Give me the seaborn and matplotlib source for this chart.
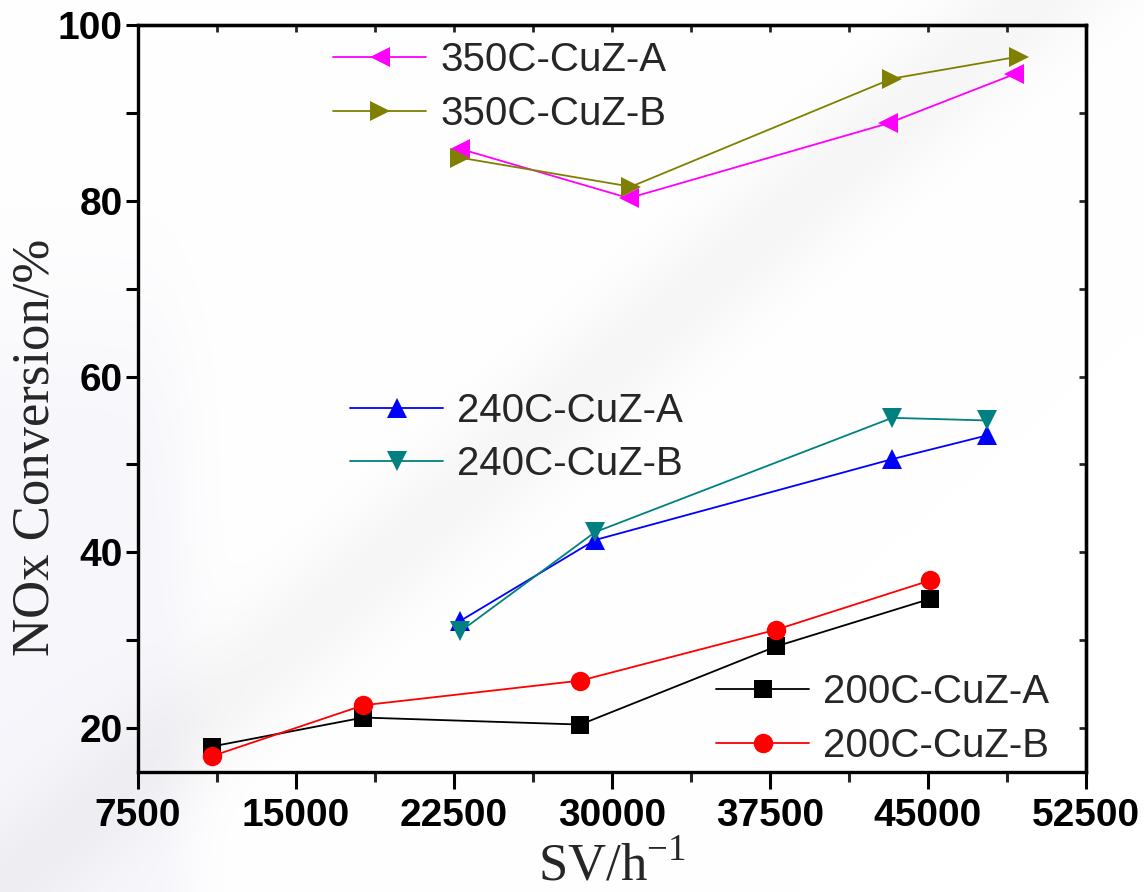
import matplotlib
matplotlib.use("Agg")
import matplotlib.pyplot as plt
import seaborn as sns
import numpy as np
import pandas as pd
from matplotlib.ticker import MultipleLocator

# Space velocity (h^-1) and NOx conversion (%) per catalyst / temperature
sv_200 = [11000, 18200, 28500, 37800, 45100]
nox_200A = [17.9, 21.2, 20.4, 29.3, 34.7]
nox_200B = [16.8, 22.6, 25.4, 31.2, 36.8]

sv_240 = [22800, 29200, 43300, 47800]
nox_240A = [32.2, 41.4, 50.6, 53.3]
nox_240B = [31.0, 42.3, 55.3, 55.0]

sv_350A = [22800, 30800, 43100, 49100]
nox_350A = [85.9, 80.3, 88.8, 94.4]
sv_350B = [22800, 30900, 43300, 49300]
nox_350B = [84.9, 81.6, 93.9, 96.4]

labels = ["350C-CuZ-A", "350C-CuZ-B", "240C-CuZ-A", "240C-CuZ-B",
          "200C-CuZ-A", "200C-CuZ-B"]

sns.set_theme(style="white")
plt.rcParams["font.family"] = ["Liberation Sans", "DejaVu Sans"]
plt.rcParams["mathtext.fontset"] = "custom"
plt.rcParams["mathtext.rm"] = "Liberation Serif"

W, H = 1144, 892
fig = plt.figure(figsize=(W / 100, H / 100), dpi=100)
fig.patch.set_facecolor("white")

# soft slide-style backdrop: faint diagonal streak and a tinted left margin
bg_ax = fig.add_axes([0, 0, 1, 1], zorder=-10)
yy, xx = np.mgrid[0:H, 0:W].astype(float)
d = (0.86 * (xx - 150) + (yy - 760)) / np.hypot(0.86, 1.0)
streak = np.exp(-(d / 55.0) ** 2)
margin = 1 / (1 + np.exp((xx - 185) / 18)) * 1 / (1 + np.exp(-(yy - 330) / 60))
shade = 1 - 0.035 * streak - 0.035 * margin
rgb = np.dstack([shade, shade, shade + 0.02 * margin])
bg_ax.imshow(np.clip(rgb, 0, 1), extent=[0, W, H, 0], aspect="auto")
bg_ax.set_axis_off()

ax = fig.add_axes([0.1206, 0.1345, 0.8287, 0.8375])
ax.set_facecolor("none")

series = [
    (sv_350A, nox_350A, "#FF00FF", "<", 14),
    (sv_350B, nox_350B, "#808000", ">", 14),
    (sv_240, nox_240A, "#0000FF", "^", 14),
    (sv_240, nox_240B, "#008080", "v", 14),
    (sv_200, nox_200A, "#000000", "s", 12.5),
    (sv_200, nox_200B, "#FF0000", "o", 14),
]

handles = []
for (xs, ys, col, mk, ms), lab in zip(series, labels):
    df = pd.DataFrame({"sv": xs, "nox": ys})
    n_before = len(ax.lines)
    sns.lineplot(data=df, x="sv", y="nox", ax=ax, color=col, marker=mk,
                 markersize=ms, markeredgewidth=0, linewidth=1.3,
                 sort=False, legend=False, estimator=None)
    handles.append(ax.lines[n_before])

ax.set_xlim(7500, 52500)
ax.set_ylim(15, 100)
ax.xaxis.set_major_locator(MultipleLocator(7500))
ax.xaxis.set_minor_locator(MultipleLocator(3750))
ax.set_yticks([20, 40, 60, 80, 100])
ax.yaxis.set_minor_locator(MultipleLocator(10))

for sp in ax.spines.values():
    sp.set_visible(True)
    sp.set_color("black")
    sp.set_linewidth(2.4)

ax.tick_params(axis="x", which="major", direction="out", length=12, width=2.2,
               pad=7, bottom=True, top=False, colors="black")
ax.tick_params(axis="x", which="minor", direction="out", length=7, width=2.2,
               bottom=True, top=False)
ax.tick_params(axis="y", which="both", direction="out", length=9, width=2.2,
               pad=2, left=True, right=False, colors="black")
for t in ax.get_xticklabels() + ax.get_yticklabels():
    t.set_fontsize(28)
    t.set_fontweight("bold")

# short inward ticks along the top and right frame
top = ax.secondary_xaxis("top")
top.xaxis.set_major_locator(MultipleLocator(3750))
top.tick_params(direction="in", length=5, width=2, labeltop=False)
top.spines["top"].set_linewidth(2.4)
right = ax.secondary_yaxis("right")
right.yaxis.set_major_locator(MultipleLocator(10))
right.tick_params(direction="in", length=5, width=2, labelright=False)
right.spines["right"].set_linewidth(2.4)

ax.set_xlabel(r"SV/h$^{\mathregular{-1}}$", fontsize=38,
              family="Liberation Serif")
ax.set_ylabel("NOx Conversion/%", fontsize=38, family="Liberation Serif")
ax.xaxis.set_label_coords(0.5, -0.093)
ax.yaxis.set_label_coords(-0.082, 0.434)

leg_kw = dict(loc="upper left", frameon=False, borderpad=0, borderaxespad=0,
              handlelength=2.3, handletextpad=0.35, labelspacing=0.38,
              prop={"family": "Liberation Sans", "size": 29})
leg1 = ax.legend(handles[0:2], labels[0:2], bbox_to_anchor=(0.206, 0.978),
                 **leg_kw)
ax.add_artist(leg1)
leg2 = ax.legend(handles[2:4], labels[2:4], bbox_to_anchor=(0.224, 0.509),
                 **leg_kw)
ax.add_artist(leg2)
leg3 = ax.legend(handles[4:6], labels[4:6], bbox_to_anchor=(0.610, 0.132),
                 **leg_kw)

fig.savefig("out.png", dpi=100, facecolor=fig.get_facecolor())
